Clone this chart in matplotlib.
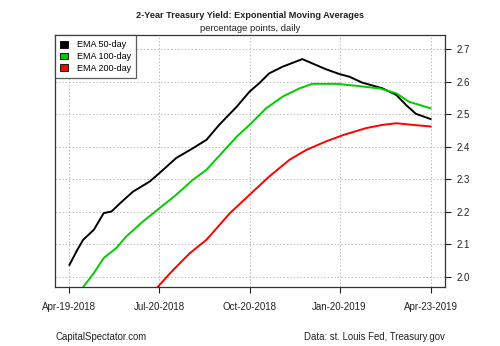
import matplotlib
matplotlib.use("Agg")
import matplotlib.pyplot as plt
from matplotlib.patches import Patch
import pandas as pd

plt.rcParams['font.family'] = ['Liberation Sans', 'DejaVu Sans']

# EMA values (percentage points)
ema50_dates = ["2018-04-19", "2018-04-27", "2018-05-03", "2018-05-14", "2018-05-24",
               "2018-06-01", "2018-06-10", "2018-06-23", "2018-07-10", "2018-07-20",
               "2018-08-06", "2018-08-23", "2018-09-06", "2018-09-19", "2018-10-07",
               "2018-10-20", "2018-10-30", "2018-11-09", "2018-11-23", "2018-12-13",
               "2018-12-23", "2019-01-06", "2019-01-20", "2019-01-30", "2019-02-12",
               "2019-03-05", "2019-03-19", "2019-03-29", "2019-04-08", "2019-04-23"]
ema50 = [2.037, 2.083, 2.114, 2.145, 2.196, 2.201, 2.227, 2.262, 2.293, 2.319,
         2.365, 2.395, 2.421, 2.467, 2.523, 2.569, 2.595, 2.625, 2.646, 2.669,
         2.656, 2.638, 2.623, 2.615, 2.597, 2.579, 2.559, 2.528, 2.501, 2.485]

ema100_dates = ["2018-05-02", "2018-05-14", "2018-05-24", "2018-06-06", "2018-06-16",
                "2018-07-03", "2018-07-20", "2018-08-06", "2018-08-23", "2018-09-06",
                "2018-09-23", "2018-10-07", "2018-10-20", "2018-11-06", "2018-11-23",
                "2018-12-10", "2018-12-23", "2019-01-17", "2019-02-06", "2019-03-02",
                "2019-03-19", "2019-04-01", "2019-04-23"]
ema100 = [1.965, 2.012, 2.058, 2.089, 2.124, 2.170, 2.211, 2.252, 2.298, 2.329,
          2.385, 2.431, 2.467, 2.518, 2.554, 2.579, 2.593, 2.593, 2.587, 2.579,
          2.564, 2.538, 2.518]

ema200_dates = ["2018-07-17", "2018-07-31", "2018-08-20", "2018-09-06", "2018-09-30",
                "2018-10-20", "2018-11-09", "2018-11-30", "2018-12-17", "2019-01-06",
                "2019-01-24", "2019-02-16", "2019-03-05", "2019-03-19", "2019-04-05",
                "2019-04-23"]
ema200 = [1.965, 2.012, 2.073, 2.114, 2.196, 2.252, 2.308, 2.360, 2.390, 2.416,
          2.436, 2.457, 2.467, 2.472, 2.467, 2.462]

series_names = ['EMA 50-day', 'EMA 100-day', 'EMA 200-day']
series_colors = ['black', '#00cc00', '#ff0000']

tick_dates = ["2018-04-19", "2018-07-20", "2018-10-20", "2019-01-20", "2019-04-23"]
tick_labels = ["Apr-19-2018", "Jul-20-2018", "Oct-20-2018", "Jan-20-2019", "Apr-23-2019"]
y_ticks = [2.0, 2.1, 2.2, 2.3, 2.4, 2.5, 2.6, 2.7]

fig = plt.figure(figsize=(5, 3.46), dpi=100)
ax = fig.add_axes([0.11, 0.1705, 0.78, 0.7283])

ax.plot(pd.to_datetime(ema50_dates), ema50, color=series_colors[0], lw=1.4)
ax.plot(pd.to_datetime(ema100_dates), ema100, color=series_colors[1], lw=1.4)
ax.plot(pd.to_datetime(ema200_dates), ema200, color=series_colors[2], lw=1.4)

start = pd.Timestamp("2018-04-19")
end = pd.Timestamp("2019-04-23")
pad = (end - start) * 0.04
ax.set_xlim(start - pad, end + pad)
ax.set_ylim(1.969, 2.743)

ax.set_xticks(pd.to_datetime(tick_dates))
ax.set_xticklabels(tick_labels)
ax.set_yticks(y_ticks)
ax.set_yticklabels([f"{v:.1f}" for v in y_ticks])
ax.yaxis.tick_right()
ax.tick_params(axis='both', direction='out', length=4, width=0.8, labelsize=7,
               colors='#222222')
ax.tick_params(axis='x', pad=7)
ax.tick_params(axis='y', pad=4)
ax.grid(True, color='#bbbbbb', linestyle=(0, (1.5, 2)), lw=0.7)
for s in ax.spines.values():
    s.set_color('#333333')
    s.set_linewidth(0.9)

# square swatches like the reference
handles = [Patch(facecolor=c, edgecolor='black', lw=0.6) for c in series_colors]
leg = ax.legend(handles, series_names,
                loc='upper left', fontsize=6.5, frameon=True, fancybox=False,
                borderaxespad=0, handlelength=0.8, handleheight=0.8,
                handletextpad=1.0, labelspacing=0.3, borderpad=0.6)
leg.get_frame().set_edgecolor('#333333')
leg.get_frame().set_linewidth(0.9)

fig.text(0.5, 0.955, "2-Year Treasury Yield: Exponential Moving Averages",
         ha='center', va='center', fontsize=6.6, fontweight='bold', color='#222222')
fig.text(0.5, 0.917, "percentage points, daily", ha='center', va='center',
         fontsize=6.8, color='#222222')
fig.text(0.11, 0.027, "CapitalSpectator.com", ha='left', va='center',
         fontsize=6.9, color='#222222')
fig.text(0.89, 0.027, "Data: st. Louis Fed, Treasury.gov", ha='right', va='center',
         fontsize=6.9, color='#222222')

fig.savefig("out.png", dpi=100)
